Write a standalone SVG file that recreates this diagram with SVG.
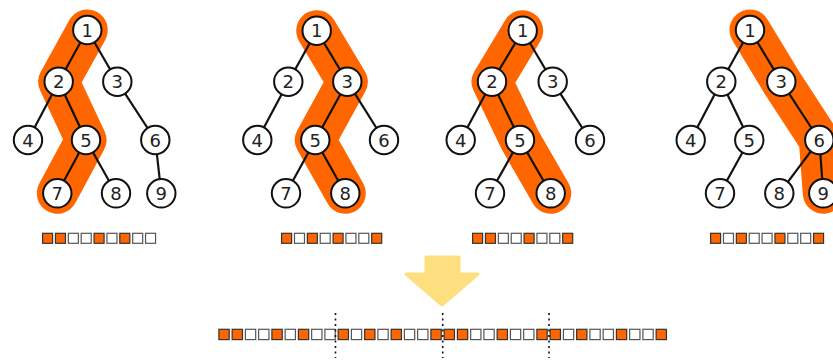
<svg xmlns="http://www.w3.org/2000/svg" width="833" height="360" viewBox="0 0 833 360">
  <style>
    .path { fill: none; stroke: #ff6600; stroke-width: 41; stroke-linecap: round; stroke-linejoin: round; }
    .edge { stroke: #111; stroke-width: 2.2; }
    .node circle { fill: #fff; stroke: #111; stroke-width: 2; }
    .node text { font-family: "DejaVu Sans", sans-serif; font-size: 18px; fill: #222; text-anchor: middle; }
    .on { fill: #ff6600; stroke: #333; stroke-width: 1.2; }
    .off { fill: #fff; stroke: #555; stroke-width: 1.2; }
    .sep { stroke: #111; stroke-width: 1.6; stroke-dasharray: 2 3.5; }
  </style>
  <rect width="833" height="360" fill="#fff"/>

  <!-- highlighted root-to-leaf paths -->
  <g id="paths">
    <polyline class="path" points="87.3,30 58.7,81.7 86,140 57.3,193.3"/>
    <polyline class="path" points="316.7,30.7 347.3,81.7 315.3,140 345.3,193.3"/>
    <polyline class="path" points="522.7,30.7 492,81.7 520,140 550.7,193.3"/>
    <polyline class="path" points="750,30 781.3,81.7 819.3,140 823.3,193.3"/>
  </g>

  <!-- tree edges -->
  <g id="connectors">
    <!-- tree A -->
    <line class="edge" x1="87.3" y1="30" x2="58.7" y2="81.7"/>
    <line class="edge" x1="87.3" y1="30" x2="117.3" y2="81.7"/>
    <line class="edge" x1="58.7" y1="81.7" x2="28" y2="140"/>
    <line class="edge" x1="58.7" y1="81.7" x2="86" y2="140"/>
    <line class="edge" x1="117.3" y1="81.7" x2="155.3" y2="140"/>
    <line class="edge" x1="86" y1="140" x2="57.3" y2="193.3"/>
    <line class="edge" x1="86" y1="140" x2="116" y2="193.3"/>
    <line class="edge" x1="155.3" y1="140" x2="161.3" y2="193.3"/>
    <!-- tree B -->
    <line class="edge" x1="316.7" y1="30.7" x2="288.3" y2="81.7"/>
    <line class="edge" x1="316.7" y1="30.7" x2="347.3" y2="81.7"/>
    <line class="edge" x1="288.3" y1="81.7" x2="257.3" y2="140"/>
    <line class="edge" x1="347.3" y1="81.7" x2="315.3" y2="140"/>
    <line class="edge" x1="347.3" y1="81.7" x2="384" y2="140"/>
    <line class="edge" x1="315.3" y1="140" x2="286" y2="193.3"/>
    <line class="edge" x1="315.3" y1="140" x2="345.3" y2="193.3"/>
    <!-- tree C -->
    <line class="edge" x1="522.7" y1="30.7" x2="492" y2="81.7"/>
    <line class="edge" x1="522.7" y1="30.7" x2="552.7" y2="81.7"/>
    <line class="edge" x1="492" y1="81.7" x2="460.7" y2="140"/>
    <line class="edge" x1="492" y1="81.7" x2="520" y2="140"/>
    <line class="edge" x1="552.7" y1="81.7" x2="590" y2="140"/>
    <line class="edge" x1="520" y1="140" x2="490" y2="193.3"/>
    <line class="edge" x1="520" y1="140" x2="550.7" y2="193.3"/>
    <!-- tree D -->
    <line class="edge" x1="750" y1="30" x2="721.3" y2="81.7"/>
    <line class="edge" x1="750" y1="30" x2="781.3" y2="81.7"/>
    <line class="edge" x1="721.3" y1="81.7" x2="690.7" y2="140"/>
    <line class="edge" x1="721.3" y1="81.7" x2="749.3" y2="140"/>
    <line class="edge" x1="781.3" y1="81.7" x2="819.3" y2="140"/>
    <line class="edge" x1="749.3" y1="140" x2="720" y2="193.3"/>
    <line class="edge" x1="819.3" y1="140" x2="779.3" y2="193.3"/>
    <line class="edge" x1="819.3" y1="140" x2="823.3" y2="193.3"/>
  </g>

  <!-- tree A nodes -->
  <g id="a1" class="node"><circle cx="87.3" cy="30" r="14.2"/><text x="87.3" y="36.5">1</text></g>
  <g id="a2" class="node"><circle cx="58.7" cy="81.7" r="14.2"/><text x="58.7" y="88.2">2</text></g>
  <g id="a3" class="node"><circle cx="117.3" cy="81.7" r="14.2"/><text x="117.3" y="88.2">3</text></g>
  <g id="a4" class="node"><circle cx="28" cy="140" r="14.2"/><text x="28" y="146.5">4</text></g>
  <g id="a5" class="node"><circle cx="86" cy="140" r="14.2"/><text x="86" y="146.5">5</text></g>
  <g id="a6" class="node"><circle cx="155.3" cy="140" r="14.2"/><text x="155.3" y="146.5">6</text></g>
  <g id="a7" class="node"><circle cx="57.3" cy="193.3" r="14.2"/><text x="57.3" y="199.8">7</text></g>
  <g id="a8" class="node"><circle cx="116" cy="193.3" r="14.2"/><text x="116" y="199.8">8</text></g>
  <g id="a9" class="node"><circle cx="161.3" cy="193.3" r="14.2"/><text x="161.3" y="199.8">9</text></g>

  <!-- tree B nodes -->
  <g id="b1" class="node"><circle cx="316.7" cy="30.7" r="14.2"/><text x="316.7" y="37.2">1</text></g>
  <g id="b2" class="node"><circle cx="288.3" cy="81.7" r="14.2"/><text x="288.3" y="88.2">2</text></g>
  <g id="b3" class="node"><circle cx="347.3" cy="81.7" r="14.2"/><text x="347.3" y="88.2">3</text></g>
  <g id="b4" class="node"><circle cx="257.3" cy="140" r="14.2"/><text x="257.3" y="146.5">4</text></g>
  <g id="b5" class="node"><circle cx="315.3" cy="140" r="14.2"/><text x="315.3" y="146.5">5</text></g>
  <g id="b6" class="node"><circle cx="384" cy="140" r="14.2"/><text x="384" y="146.5">6</text></g>
  <g id="b7" class="node"><circle cx="286" cy="193.3" r="14.2"/><text x="286" y="199.8">7</text></g>
  <g id="b8" class="node"><circle cx="345.3" cy="193.3" r="14.2"/><text x="345.3" y="199.8">8</text></g>

  <!-- tree C nodes -->
  <g id="c1" class="node"><circle cx="522.7" cy="30.7" r="14.2"/><text x="522.7" y="37.2">1</text></g>
  <g id="c2" class="node"><circle cx="492" cy="81.7" r="14.2"/><text x="492" y="88.2">2</text></g>
  <g id="c3" class="node"><circle cx="552.7" cy="81.7" r="14.2"/><text x="552.7" y="88.2">3</text></g>
  <g id="c4" class="node"><circle cx="460.7" cy="140" r="14.2"/><text x="460.7" y="146.5">4</text></g>
  <g id="c5" class="node"><circle cx="520" cy="140" r="14.2"/><text x="520" y="146.5">5</text></g>
  <g id="c6" class="node"><circle cx="590" cy="140" r="14.2"/><text x="590" y="146.5">6</text></g>
  <g id="c7" class="node"><circle cx="490" cy="193.3" r="14.2"/><text x="490" y="199.8">7</text></g>
  <g id="c8" class="node"><circle cx="550.7" cy="193.3" r="14.2"/><text x="550.7" y="199.8">8</text></g>

  <!-- tree D nodes -->
  <g id="d1" class="node"><circle cx="750" cy="30" r="14.2"/><text x="750" y="36.5">1</text></g>
  <g id="d2" class="node"><circle cx="721.3" cy="81.7" r="14.2"/><text x="721.3" y="88.2">2</text></g>
  <g id="d3" class="node"><circle cx="781.3" cy="81.7" r="14.2"/><text x="781.3" y="88.2">3</text></g>
  <g id="d4" class="node"><circle cx="690.7" cy="140" r="14.2"/><text x="690.7" y="146.5">4</text></g>
  <g id="d5" class="node"><circle cx="749.3" cy="140" r="14.2"/><text x="749.3" y="146.5">5</text></g>
  <g id="d6" class="node"><circle cx="819.3" cy="140" r="14.2"/><text x="819.3" y="146.5">6</text></g>
  <g id="d7" class="node"><circle cx="720" cy="193.3" r="14.2"/><text x="720" y="199.8">7</text></g>
  <g id="d8" class="node"><circle cx="779.3" cy="193.3" r="14.2"/><text x="779.3" y="199.8">8</text></g>
  <g id="d9" class="node"><circle cx="823.3" cy="193.3" r="14.2"/><text x="823.3" y="199.8">9</text></g>

  <!-- per-tree bit vectors (pitch 12.87) -->
  <g id="bitsA" transform="translate(42.6,233.3)">
    <rect class="on" x="0" width="10" height="10"/><rect class="on" x="12.87" width="10" height="10"/>
    <rect class="off" x="25.74" width="10" height="10"/><rect class="off" x="38.61" width="10" height="10"/>
    <rect class="on" x="51.48" width="10" height="10"/><rect class="off" x="64.35" width="10" height="10"/>
    <rect class="on" x="77.22" width="10" height="10"/><rect class="off" x="90.09" width="10" height="10"/>
    <rect class="off" x="102.96" width="10" height="10"/>
  </g>
  <g id="bitsB" transform="translate(281.6,233.3)">
    <rect class="on" x="0" width="10" height="10"/><rect class="off" x="12.87" width="10" height="10"/>
    <rect class="on" x="25.74" width="10" height="10"/><rect class="off" x="38.61" width="10" height="10"/>
    <rect class="on" x="51.48" width="10" height="10"/><rect class="off" x="64.35" width="10" height="10"/>
    <rect class="off" x="77.22" width="10" height="10"/><rect class="on" x="90.09" width="10" height="10"/>
  </g>
  <g id="bitsC" transform="translate(472.6,233.3)">
    <rect class="on" x="0" width="10" height="10"/><rect class="on" x="12.87" width="10" height="10"/>
    <rect class="off" x="25.74" width="10" height="10"/><rect class="off" x="38.61" width="10" height="10"/>
    <rect class="on" x="51.48" width="10" height="10"/><rect class="off" x="64.35" width="10" height="10"/>
    <rect class="off" x="77.22" width="10" height="10"/><rect class="on" x="90.09" width="10" height="10"/>
  </g>
  <g id="bitsD" transform="translate(710.6,233.3)">
    <rect class="on" x="0" width="10" height="10"/><rect class="off" x="12.87" width="10" height="10"/>
    <rect class="on" x="25.74" width="10" height="10"/><rect class="off" x="38.61" width="10" height="10"/>
    <rect class="off" x="51.48" width="10" height="10"/><rect class="on" x="64.35" width="10" height="10"/>
    <rect class="off" x="77.22" width="10" height="10"/><rect class="off" x="90.09" width="10" height="10"/>
    <rect class="on" x="102.96" width="10" height="10"/>
  </g>

  <!-- merge arrow -->
  <g id="arrow">
    <polygon points="426,257 459,257 459,274 478,274 442,305 406,274 426,274" fill="#fedf80" stroke="#fedf80" stroke-width="3" stroke-linejoin="round"/>
  </g>

  <!-- concatenated bit vector (pitch 13.25) -->
  <g id="bitsAll" transform="translate(218.9,329.3)">
    <rect class="on" x="0" width="10.3" height="10.3"/>
    <rect class="on" x="13.25" width="10.3" height="10.3"/>
    <rect class="off" x="26.5" width="10.3" height="10.3"/>
    <rect class="off" x="39.75" width="10.3" height="10.3"/>
    <rect class="on" x="53" width="10.3" height="10.3"/>
    <rect class="off" x="66.25" width="10.3" height="10.3"/>
    <rect class="on" x="79.5" width="10.3" height="10.3"/>
    <rect class="off" x="92.75" width="10.3" height="10.3"/>
    <rect class="off" x="106" width="10.3" height="10.3"/>
    <rect class="on" x="119.25" width="10.3" height="10.3"/>
    <rect class="off" x="132.5" width="10.3" height="10.3"/>
    <rect class="on" x="145.75" width="10.3" height="10.3"/>
    <rect class="off" x="159" width="10.3" height="10.3"/>
    <rect class="on" x="172.25" width="10.3" height="10.3"/>
    <rect class="off" x="185.5" width="10.3" height="10.3"/>
    <rect class="off" x="198.75" width="10.3" height="10.3"/>
    <rect class="on" x="212" width="10.3" height="10.3"/>
    <rect class="on" x="225.25" width="10.3" height="10.3"/>
    <rect class="on" x="238.5" width="10.3" height="10.3"/>
    <rect class="off" x="251.75" width="10.3" height="10.3"/>
    <rect class="off" x="265" width="10.3" height="10.3"/>
    <rect class="on" x="278.25" width="10.3" height="10.3"/>
    <rect class="off" x="291.5" width="10.3" height="10.3"/>
    <rect class="off" x="304.75" width="10.3" height="10.3"/>
    <rect class="on" x="318" width="10.3" height="10.3"/>
    <rect class="on" x="331.25" width="10.3" height="10.3"/>
    <rect class="off" x="344.5" width="10.3" height="10.3"/>
    <rect class="on" x="357.75" width="10.3" height="10.3"/>
    <rect class="off" x="371" width="10.3" height="10.3"/>
    <rect class="off" x="384.25" width="10.3" height="10.3"/>
    <rect class="on" x="397.5" width="10.3" height="10.3"/>
    <rect class="off" x="410.75" width="10.3" height="10.3"/>
    <rect class="off" x="424" width="10.3" height="10.3"/>
    <rect class="on" x="437.25" width="10.3" height="10.3"/>
  </g>

  <!-- group separators -->
  <g id="separators">
    <line class="sep" x1="335.5" y1="313" x2="335.5" y2="358"/>
    <line class="sep" x1="442.7" y1="313" x2="442.7" y2="358"/>
    <line class="sep" x1="549" y1="313" x2="549" y2="358"/>
  </g>
</svg>
